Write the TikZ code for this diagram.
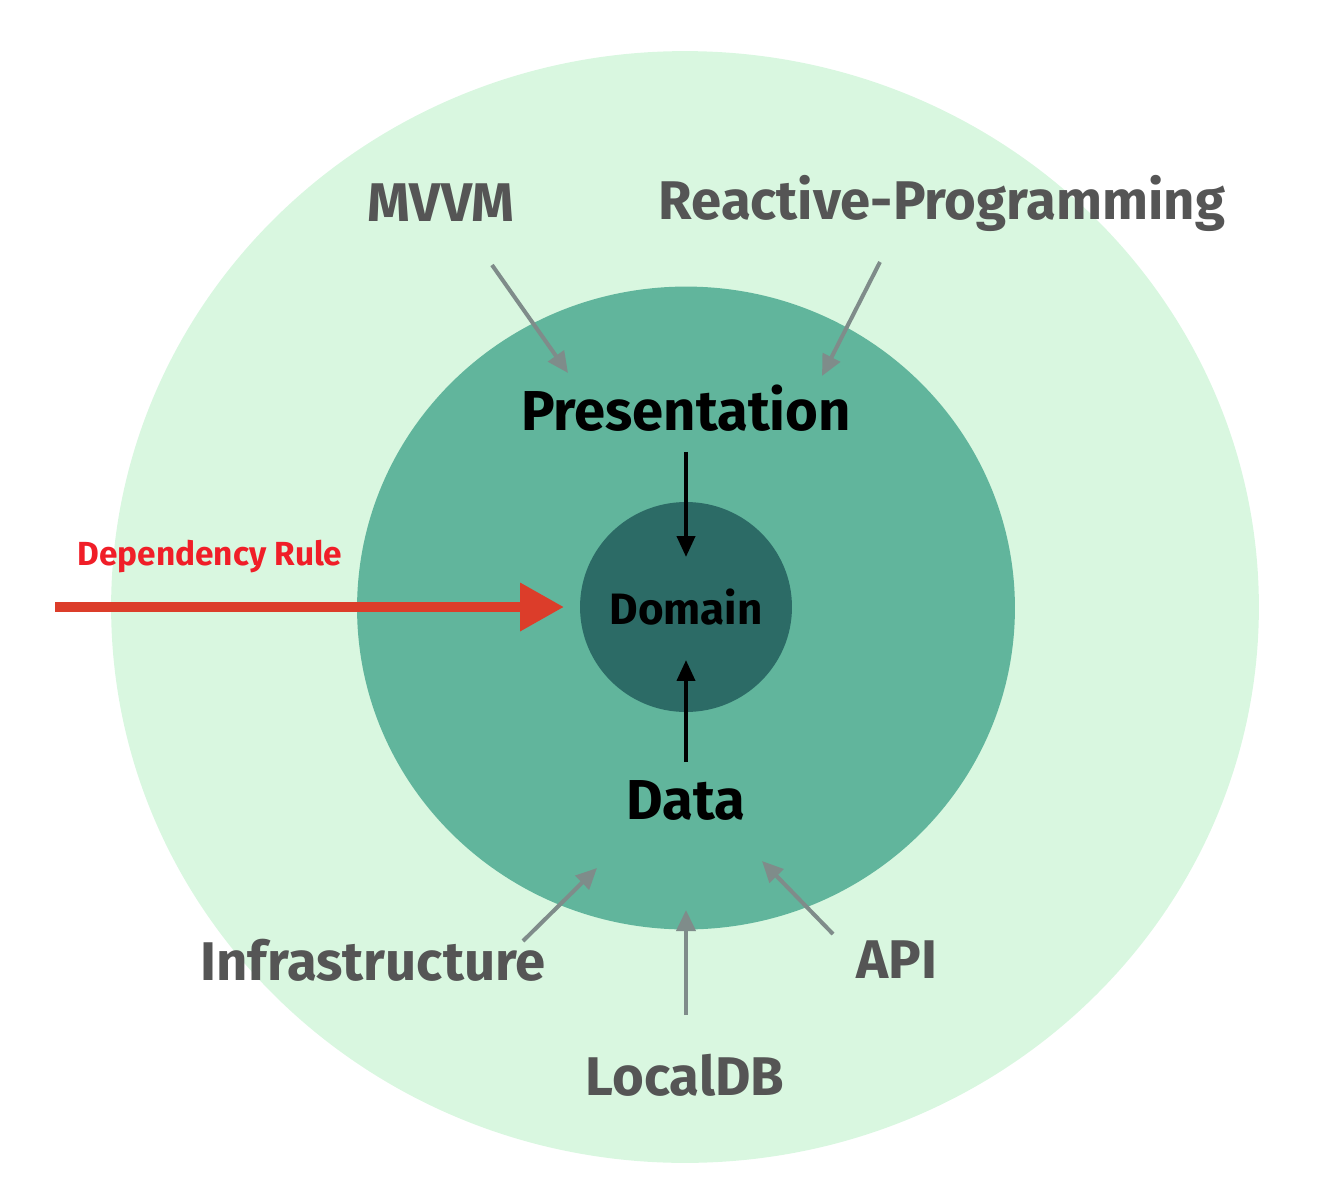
\documentclass[tikz,border=0pt]{standalone}
\usepackage{fontspec}
\setmainfont{Fira Sans}
\usepackage{tikz}
\usetikzlibrary{positioning,arrows.meta,calc,shapes.geometric}
\definecolor{outerring}{HTML}{D9F7E0}
\definecolor{midring}{HTML}{61B59C}
\definecolor{core}{HTML}{2C6B66}
\definecolor{feedgray}{HTML}{7F8C8A}
\definecolor{labelgray}{HTML}{555555}
\definecolor{rulered}{HTML}{DC3D2A}
\definecolor{ruletext}{HTML}{F01E28}
\tikzset{
	ring/.style={ellipse, draw=none, inner sep=0pt},
	outerlabel/.style={text=labelgray, font=\fontsize{31}{36}\selectfont\bfseries},
	layerlabel/.style={text=black, font=\fontsize{32}{38}\selectfont\bfseries},
	feed/.style={-{Triangle[length=0.42cm,width=0.38cm]}, draw=feedgray, line width=0.08cm},
	dep/.style={-{Triangle[length=0.42cm,width=0.36cm]}, draw=black, line width=0.08cm},
}

\begin{document}
\begin{tikzpicture}[x=0.02cm,y=-0.02cm]
			\useasboundingbox (0,0) rectangle (1328,1200);
			\node[ring, fill=outerring, minimum width=22.96cm, minimum height=22.24cm] (outer) at (685,607) {};
			\node[ring, fill=midring, minimum width=13.16cm, minimum height=12.86cm] (middle) at (686,608) {};
			\node[ring, fill=core, minimum width=4.24cm, minimum height=4.2cm] (domain) at (686,607) {};
			\node[text=black, font=\fontsize{25}{30}\selectfont\bfseries] at (domain) {Domain};
			\node[layerlabel] (pres) at (686,408) {Presentation};
			\node[layerlabel] (data) at (686,800) {Data};
			\node[outerlabel] (mvvm) at (441,203) {MVVM};
			\node[outerlabel] (reactive) at (942,203) {Reactive-Programming};
			\node[outerlabel] (infra) at (373,960) {Infrastructure};
			\node[outerlabel] (api) at (897,960) {API};
			\node[outerlabel] (localdb) at (685,1075) {LocalDB};
			\coordinate (mvvmtail) at (492,265);
			\coordinate (mvvmtip) at (568,373);
			\coordinate (reactivetail) at (880,262);
			\coordinate (reactivetip) at (822,376);
			\coordinate (infratail) at (523,941);
			\coordinate (infratip) at (597,868);
			\coordinate (localdbtail) at (686,1015);
			\coordinate (localdbtip) at (686,910);
			\coordinate (apitail) at (833,934);
			\coordinate (apitip) at (762,861);
			\draw[feed] (mvvmtail) -- (mvvmtip);
			\draw[feed] (reactivetail) -- (reactivetip);
			\draw[feed] (infratail) -- (infratip);
			\draw[feed] (localdbtail) -- (localdbtip);
			\draw[feed] (apitail) -- (apitip);
			\draw[dep, shorten <=0.88cm, shorten >=1.0cm] (pres.center) -- (domain.center);
			\draw[dep, shorten <=0.76cm, shorten >=1.06cm] (data.center) -- (domain.center);
			\node[text=ruletext, font=\fontsize{19}{22}\selectfont\bfseries] (rulelabel) at (210,557) {Dependency Rule};
			\coordinate (rulestart) at (55,607);
			\coordinate (ruleend) at (564,607);
			\draw[-{Triangle[length=0.88cm,width=0.92cm]}, draw=rulered, line width=0.2cm] (rulestart) -- (ruleend);
		\end{tikzpicture}
\end{document}
